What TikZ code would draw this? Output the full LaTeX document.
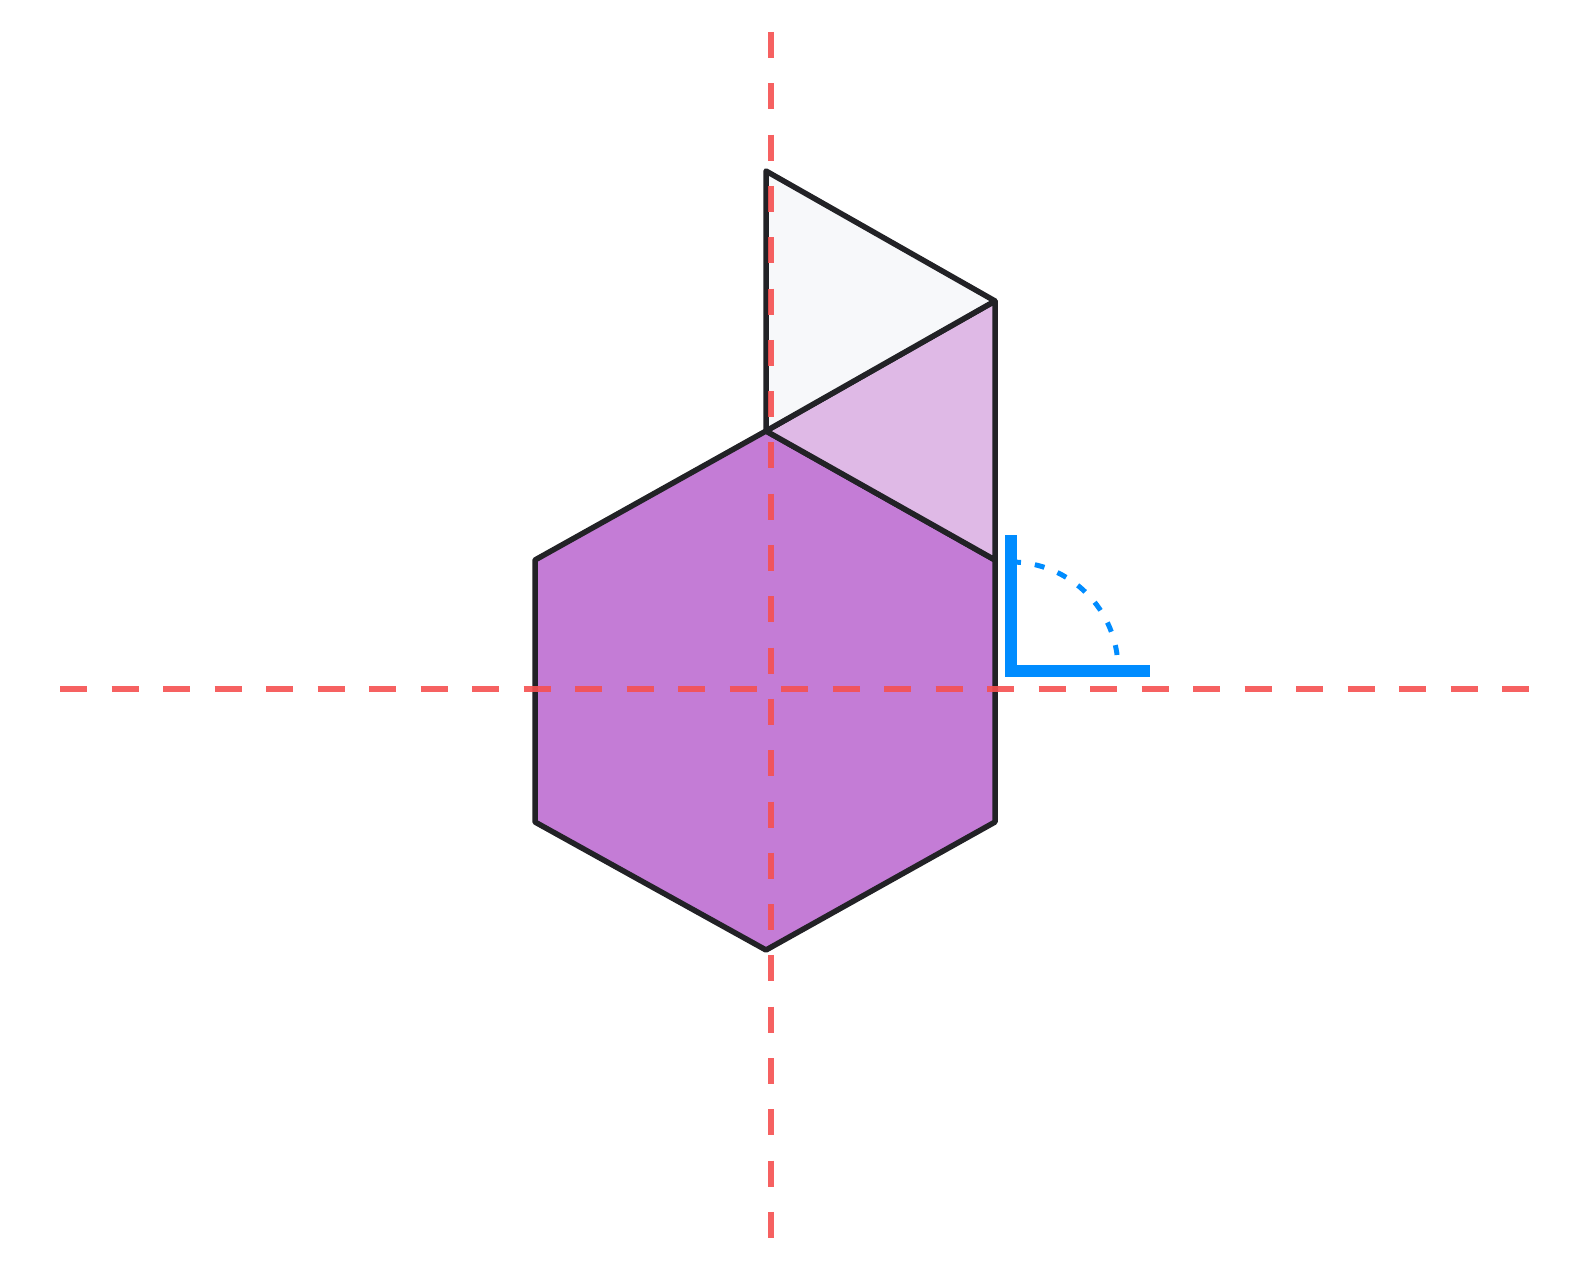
\documentclass[tikz,border=0pt]{standalone}
\usepackage{tikz}
\usetikzlibrary{calc}

\definecolor{hexfill}{RGB}{196,124,214}
\definecolor{wedgefill}{RGB}{223,185,230}
\definecolor{flapfill}{RGB}{247,248,250}
\definecolor{edgecol}{RGB}{34,34,38}
\definecolor{axiscol}{RGB}{245,80,80}
\definecolor{markcol}{RGB}{0,140,255}

\begin{document}
\begin{tikzpicture}[x=1pt, y=-1pt]
	\tikzset {outline/.style={draw=edgecol, line width=5.5pt, line join=round},
		axis/.style={draw=axiscol, draw opacity=0.9, line width=5.5pt},
		marker/.style={draw=markcol, line width=12pt},
		sweep/.style={draw=markcol, line width=5pt, dash pattern=on 10pt off 14pt} }
	\useasboundingbox (0,0) rectangle (1581,1287);
	
	% hexagon corners
	\coordinate (ht) at (766,431);
	\coordinate (hur) at (995,560);
	\coordinate (hlr) at (995,822);
	\coordinate (hb) at (766,950);
	\coordinate (hll) at (535,822);
	\coordinate (hul) at (535,560);
	% flap corners
	\coordinate (ft) at (766,171);
	\coordinate (fr) at (995,301);
	
	\filldraw[outline, fill=hexfill] (ht) -- (hur) -- (hlr) -- (hb) -- (hll) -- (hul) -- cycle;
	\filldraw[outline, fill=wedgefill] (ht) -- (fr) -- (hur) -- cycle;
	\filldraw[outline, fill=flapfill] (ft) -- (fr) -- (ht) -- cycle;
	
	% symmetry axes
	\draw[axis, dash pattern=on 26pt off 25.3pt] (771,32) -- (771,1238);
	\draw[axis, dash pattern=on 27pt off 24.5pt] (60,689) -- (1529,689);
	
	% right angle marker
	\coordinate (mc) at (1011,669);
	\draw[marker] (1011,535) -- (1011,671) -- (1150,671);
	\draw[sweep] ($(mc)+(0,-107)$) arc[start angle=-90, end angle=0, radius=107];
\end{tikzpicture}
\end{document}
